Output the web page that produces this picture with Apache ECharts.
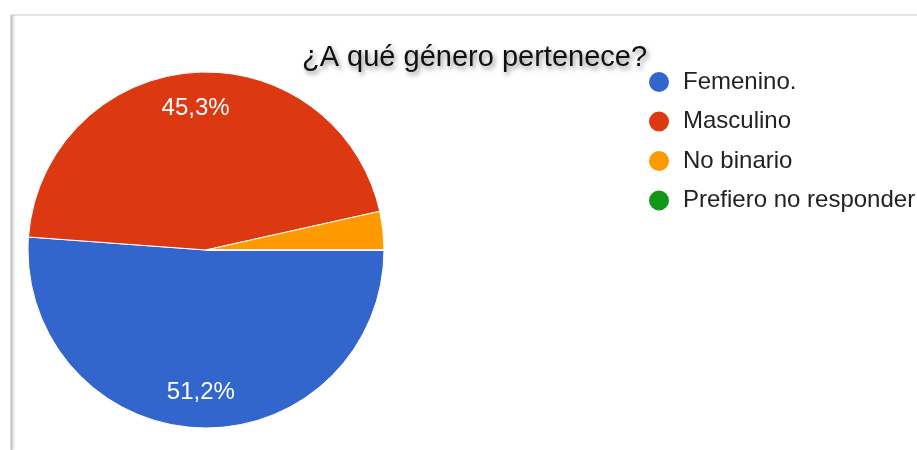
<!DOCTYPE html>
<html>
<head>
<meta charset="utf-8">
<script src="https://cdn.jsdelivr.net/npm/echarts@6/dist/echarts.min.js"></script>
<style>html,body{margin:0;padding:0;background:#fff;}#c{width:917px;height:450px;}</style>
</head>
<body>
<div id="c"></div>
<script>
const titleText = '¿A qué género pertenece?';
const categories = ['Femenino.', 'Masculino', 'No binario', 'Prefiero no responder'];
const counts = [44, 39, 3, 0];
const colors = ['#3366cc', '#dc3912', '#ff9900', '#109618'];

const data = categories.map((n, i) => ({ name: n, value: counts[i] }));
const chart = echarts.init(document.getElementById('c'), null, { renderer: 'canvas' });
chart.setOption({
  animation: false,
  color: colors,
  title: {
    text: titleText,
    left: 302, top: 43, padding: 0,
    textStyle: {
      fontFamily: 'Liberation Sans, Arial, sans-serif', fontSize: 29, fontWeight: 'normal', color: '#111',
      textShadowColor: 'rgba(0,0,0,0.45)', textShadowBlur: 5, textShadowOffsetX: 2, textShadowOffsetY: 3
    }
  },
  legend: {
    orient: 'vertical', left: 647, top: 70, padding: 0,
    data: categories,
    icon: 'circle', itemWidth: 24, itemHeight: 22, itemGap: 15.5,
    textStyle: { fontFamily: 'Liberation Sans, Arial, sans-serif', fontSize: 24, color: '#222', padding: [0, 0, 0, 7], lineHeight: 22 }
  },
  graphic: [
    { type: 'line', shape: { x1: 12, y1: 15, x2: 917, y2: 15 }, style: { stroke: '#e4e4e4', lineWidth: 2 }, z: -1 },
    { type: 'line', shape: { x1: 11.5, y1: 15, x2: 11.5, y2: 450 }, style: { stroke: '#c4c4c4', lineWidth: 2, shadowColor: 'rgba(0,0,0,0.2)', shadowBlur: 3, shadowOffsetX: 1 }, z: -1 }
  ],
  series: [
    {
      type: 'pie', center: [206, 250], radius: [0, 178],
      startAngle: 0, clockwise: true, percentPrecision: 1,
      data: data,
      label: { show: false }, labelLine: { show: false },
      itemStyle: { borderColor: '#fff', borderWidth: 1 },
      emphasis: { disabled: true }
    },
    {
      type: 'pie', center: [206, 250], radius: [100, 178],
      startAngle: 0, clockwise: true, percentPrecision: 1, silent: true,
      data: data.map(d => ({ name: d.name, value: d.value })),
      itemStyle: { color: 'rgba(0,0,0,0)', borderWidth: 0 },
      labelLine: { show: false },
      label: {
        show: true, position: 'inside', color: '#fff',
        fontFamily: 'Liberation Sans, Arial, sans-serif', fontSize: 24, fontWeight: 'normal',
        formatter: p => p.percent >= 5 ? p.percent.toFixed(1).replace('.', ',') + '%' : ''
      },
      emphasis: { disabled: true }
    }
  ]
});
</script>
</body>
</html>
